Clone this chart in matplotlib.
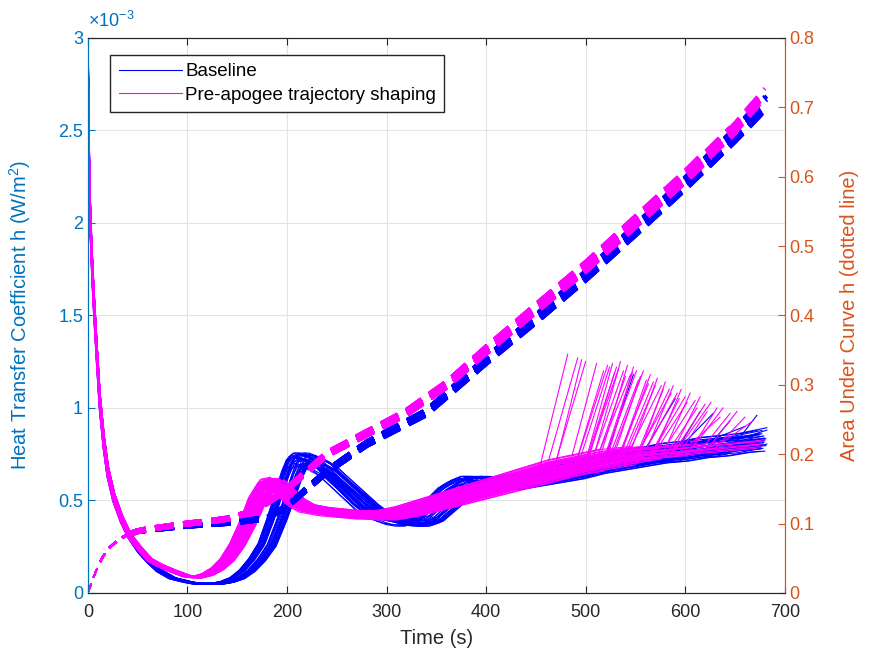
import numpy as np
import matplotlib.pyplot as plt

plt.rcParams['font.family'] = ['Liberation Sans', 'DejaVu Sans']
plt.rcParams['mathtext.default'] = 'regular'

# heat transfer coefficient h (x1e-3 W/m^2), central run shape per case
t_base = [0, 2, 4, 6, 9, 12, 16, 20, 26, 34, 42, 52, 62, 72, 85, 100, 110, 120, 130, 140,
          150, 160, 170, 180, 190, 200, 205, 210, 215, 220, 230, 240, 250, 260, 270, 280, 290, 300, 310, 320,
          330, 340, 350, 360, 370, 380, 390, 400, 410, 420, 440, 460, 480, 500, 520, 540, 560, 580, 600, 620,
          640, 660, 680, 700, 720]
h_base = [2.95, 2.1, 1.8, 1.58, 1.3, 1.04, 0.82, 0.66, 0.52, 0.4, 0.31, 0.23, 0.17, 0.12, 0.08, 0.06, 0.05, 0.05, 0.05, 0.06,
          0.08, 0.12, 0.18, 0.26, 0.4, 0.56, 0.64, 0.7, 0.72, 0.72, 0.7, 0.67, 0.62, 0.57, 0.52, 0.47, 0.43, 0.41, 0.39, 0.38,
          0.38, 0.4, 0.45, 0.5, 0.55, 0.58, 0.6, 0.6, 0.59, 0.59, 0.61, 0.63, 0.65, 0.68, 0.7, 0.72, 0.74, 0.75, 0.77, 0.78,
          0.8, 0.81, 0.82, 0.84, 0.86]

t_pre = [0, 2, 4, 6, 9, 12, 16, 20, 26, 34, 42, 52, 62, 72, 85, 100, 110, 120, 130, 140,
         150, 160, 170, 180, 190, 200, 210, 220, 240, 260, 280, 300, 320, 340, 360, 380, 400, 420, 440, 460,
         480, 500, 520, 540, 560, 580, 600, 620, 640, 660, 680, 700, 720]
h_pre = [2.95, 2.1, 1.8, 1.58, 1.3, 1.04, 0.82, 0.66, 0.52, 0.4, 0.31, 0.24, 0.18, 0.15, 0.12, 0.09, 0.085, 0.1, 0.13, 0.18,
         0.26, 0.37, 0.5, 0.58, 0.59, 0.54, 0.49, 0.46, 0.44, 0.43, 0.42, 0.42, 0.44, 0.47, 0.5, 0.53, 0.56, 0.59, 0.62, 0.65,
         0.68, 0.7, 0.72, 0.74, 0.75, 0.76, 0.77, 0.78, 0.79, 0.8, 0.81, 0.82, 0.83]

# area under curve h (right axis)
t_area = [0, 5, 10, 15, 20, 30, 40, 50, 60, 80, 100, 120, 140, 160, 180, 200, 220, 240, 260, 280,
          300, 320, 340, 360, 380, 400, 450, 500, 550, 600, 650, 680, 700, 720]
a_base = [0, 0.02, 0.038, 0.052, 0.063, 0.076, 0.084, 0.089, 0.091, 0.094, 0.097, 0.099, 0.101, 0.104, 0.108, 0.125, 0.15, 0.175, 0.195, 0.215,
          0.23, 0.245, 0.26, 0.285, 0.31, 0.335, 0.395, 0.457, 0.523, 0.59, 0.66, 0.705, 0.73, 0.76]
a_pre = [0, 0.02, 0.038, 0.052, 0.063, 0.076, 0.084, 0.089, 0.092, 0.096, 0.1, 0.103, 0.107, 0.115, 0.13, 0.15, 0.175, 0.2, 0.215, 0.23,
         0.245, 0.26, 0.28, 0.3, 0.325, 0.35, 0.41, 0.47, 0.535, 0.6, 0.67, 0.72, 0.75, 0.78]

# per-run dispersion: time stretch, h scale, area scale, end time, end spike peak (0 = no spike)
base_stretch = [1.0, 0.97, 1.03, 0.95, 1.05, 0.99, 1.02, 0.96, 1.04, 0.98, 1.01, 0.965, 1.035, 0.955, 1.045, 0.985, 1.015, 0.975, 1.025, 1.0,
                0.96, 1.04, 0.97, 1.03, 0.95, 1.05, 0.99, 1.02, 0.96, 1.04, 0.98, 1.01, 0.965, 1.035, 0.955, 1.045, 0.985, 1.015, 0.975, 1.025]
base_scale = [1.0, 1.04, 0.96, 1.02, 0.98, 1.05, 0.95, 1.01, 0.99, 1.03, 0.97, 1.05, 0.95, 1.02, 0.98, 1.04, 0.96, 1.0, 1.03, 0.97,
              1.05, 0.95, 1.01, 0.99, 1.03, 0.97, 1.04, 0.96, 1.02, 0.98, 1.0, 1.05, 0.95, 1.03, 0.97, 1.01, 0.99, 1.04, 0.96, 1.0]
base_area_scale = [1.0, 1.01, 0.99, 1.015, 0.985, 1.005, 0.995, 1.012, 0.988, 1.0, 1.01, 0.99, 1.015, 0.985, 1.005, 0.995, 1.012, 0.988, 1.0, 1.01,
                   0.99, 1.015, 0.985, 1.005, 0.995, 1.012, 0.988, 1.0, 1.01, 0.99, 1.015, 0.985, 1.005, 0.995, 1.012, 0.988, 1.0, 1.01, 0.99, 1.0]
base_end = [548, 590, 615, 628, 645, 660, 672, 682,
            665, 668, 670, 672, 674, 675, 676, 677, 678, 679, 680, 681, 682, 680, 679, 678, 677, 676, 675, 674,
            673, 672, 671, 670, 682, 681, 680, 679, 678, 677, 676, 675]
base_peak = [1.18, 1.05, 0.98, 0.97, 0.93, 0.9, 0.96, 0.88] + [0] * 32

pre_stretch = [1.0, 0.97, 1.03, 0.95, 1.05, 0.99, 1.02, 0.96, 1.04, 0.98, 1.01, 0.965, 1.035, 0.955, 1.045, 0.985, 1.015, 0.975, 1.025, 1.0, 0.96, 1.04,
               0.97, 1.03, 0.95, 1.05, 0.99, 1.02, 0.96, 1.04, 0.98, 1.01, 0.965, 1.035, 0.955, 1.045, 0.985, 1.015, 0.975, 1.025, 1.0, 0.96, 1.04, 0.98,
               1.02, 0.98, 1.03, 0.97, 1.01, 0.99, 1.04, 0.96, 1.0, 1.02, 0.98, 1.03, 0.97, 1.01, 0.99, 1.0]
pre_scale = [1.0, 1.04, 0.96, 1.02, 0.98, 1.05, 0.95, 1.01, 0.99, 1.03, 0.97, 1.06, 0.94, 1.02, 0.98, 1.04, 0.96, 1.0, 1.03, 0.97, 1.05, 0.95,
             1.01, 0.99, 1.03, 0.97, 1.04, 0.96, 1.02, 0.98, 1.0, 1.05, 0.95, 1.03, 0.97, 1.01, 0.99, 1.04, 0.96, 1.0, 1.02, 0.98, 1.03, 0.97,
             0.98, 1.02, 0.96, 1.04, 1.0, 0.97, 1.03, 0.99, 1.01, 0.95, 1.05, 0.98, 1.02, 1.0, 0.96, 1.04]
pre_area_scale = [1.0, 1.01, 0.99, 1.015, 0.985, 1.005, 0.995, 1.012, 0.988, 1.0, 1.01, 0.99, 1.015, 0.985, 1.005, 0.995, 1.012, 0.988, 1.0, 1.01, 0.99, 1.015,
                  0.985, 1.005, 0.995, 1.012, 0.988, 1.0, 1.01, 0.99, 1.015, 0.985, 1.005, 0.995, 1.012, 0.988, 1.0, 1.01, 0.99, 1.0, 1.005, 0.995, 1.01, 0.99,
                  1.0, 1.008, 0.992, 1.012, 0.988, 1.0, 1.005, 0.995, 1.01, 0.99, 1.0, 1.008, 0.992, 1.004, 0.996, 1.0]
pre_end = [482, 492, 496, 500, 511, 522, 527, 531, 535, 538, 542, 545, 548, 551, 555, 558, 561, 565, 568, 572,
           576, 580, 584, 588, 592, 596, 600, 605, 610, 615, 620, 626, 632, 638, 645, 652, 660, 668,
           672, 674, 676, 678, 680, 675,
           518, 524, 529, 533, 540, 547, 553, 563, 570, 578, 586, 594, 602, 612, 622, 635]
pre_peak = [1.29, 1.27, 1.26, 1.25, 1.24, 1.23, 1.24, 1.22, 1.25, 1.2, 1.23, 1.18, 1.22, 1.2, 1.17, 1.2, 1.15, 1.18, 1.14, 1.16,
            1.12, 1.14, 1.1, 1.12, 1.08, 1.1, 1.06, 1.08, 1.04, 1.06, 1.02, 1.03, 1.0, 1.0, 0.97, 0.98, 0.95, 0.93,
            0, 0, 0, 0, 0, 0,
            1.2, 1.22, 1.19, 1.21, 1.17, 1.19, 1.15, 1.13, 1.12, 1.1, 1.08, 1.05, 1.03, 1.0, 0.98, 0.95]

spike_rise = 30

BLUE = '#0000ff'
PINK = '#ff00ff'
C_LEFT = '#0072BD'
C_RIGHT = '#D95319'
C_AX = '#262626'


def draw_h(ax, t, h, stretch, scale, ends, peaks, color):
    lines = []
    for s, k, te, pk in zip(stretch, scale, ends, peaks):
        ts = np.array(t) * s
        hs = np.array(h) * k
        cut = te - spike_rise if pk else te
        m = ts < cut
        x = np.append(ts[m], cut)
        y = np.append(hs[m], np.interp(cut, ts, hs))
        if pk:
            x = np.append(x, te)
            y = np.append(y, pk)
        lines += ax.plot(x, y, color=color, lw=0.8)
    return lines[0]


def draw_area(ax, t, a, scale, ends, color):
    for k, te in zip(scale, ends):
        ta = np.array(t, dtype=float)
        aa = np.array(a) * k
        m = ta < te
        x = np.append(ta[m], te)
        y = np.append(aa[m], np.interp(te, ta, aa))
        early = x <= 40
        late = x >= 40
        ax.plot(x[early], y[early], color=color, lw=1.0, ls=(0, (7, 5)))
        ax.plot(x[late], y[late], color=color, lw=3.0, ls=(0, (4.5, 2.3)))


fig = plt.figure(figsize=(8.7, 6.64), dpi=100)
ax = fig.add_axes([0.101, 0.107, 0.801, 0.836])
ax2 = ax.twinx()

hb = draw_h(ax, t_base, h_base, base_stretch, base_scale, base_end, base_peak, BLUE)
hp = draw_h(ax, t_pre, h_pre, pre_stretch, pre_scale, pre_end, pre_peak, PINK)
draw_area(ax2, t_area, a_base, base_area_scale, base_end, BLUE)
draw_area(ax2, t_area, a_pre, pre_area_scale, pre_end, PINK)

ax.set_xlim(0, 700)
ax.set_ylim(0, 3)
ax.set_xticks(range(0, 701, 100))
ax.set_yticks(np.arange(0, 3.01, 0.5))
ax.set_yticklabels(['%g' % v for v in np.arange(0, 3.01, 0.5)])
ax2.set_ylim(0, 0.8)
ax2.set_yticks(np.arange(0, 0.81, 0.1))
ax2.set_yticklabels(['%g' % round(v, 1) for v in np.arange(0, 0.81, 0.1)])

ax.grid(True, color='#e3e3e3', lw=0.8)
ax.set_axisbelow(True)

ax.tick_params(direction='in', top=True, length=5, labelsize=13)
ax.tick_params(axis='x', colors=C_AX, pad=8)
ax.tick_params(axis='y', colors=C_LEFT)
ax2.tick_params(axis='y', direction='in', length=5, colors=C_RIGHT, labelsize=13)

for a_ in (ax, ax2):
    a_.spines['left'].set_color(C_LEFT)
    a_.spines['right'].set_color(C_RIGHT)
    a_.spines['top'].set_color(C_AX)
    a_.spines['bottom'].set_color(C_AX)

ax.set_xlabel('Time (s)', color=C_AX, fontsize=14.5, labelpad=6)
ax.set_ylabel('Heat Transfer Coefficient h (W/m$^2$)', color=C_LEFT, fontsize=14.5, labelpad=18)
ax2.set_ylabel('Area Under Curve h (dotted line)', color=C_RIGHT, fontsize=14.5, labelpad=18)
ax.text(0.0, 1.012, r'$\times10^{-3}$', transform=ax.transAxes, color=C_LEFT,
        fontsize=13, ha='left', va='bottom')

leg = ax2.legend([hb, hp], ['Baseline', 'Pre-apogee trajectory shaping'],
                 loc='upper left', bbox_to_anchor=(0.032, 0.97), borderaxespad=0,
                 fancybox=False, edgecolor=C_AX, framealpha=1, fontsize=13.5,
                 handlelength=3.4, handletextpad=0.15, borderpad=0.45, labelspacing=0.35)
leg.get_frame().set_linewidth(1.0)

fig.savefig('out.png', dpi=100)
